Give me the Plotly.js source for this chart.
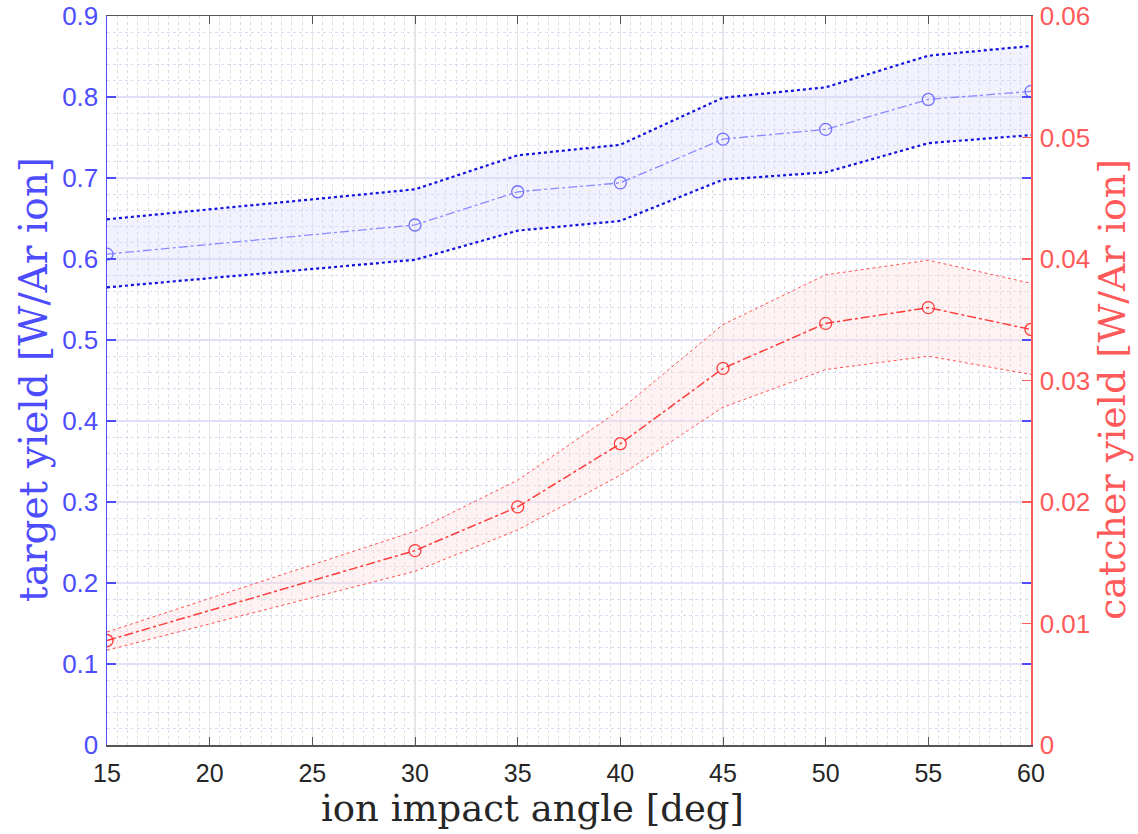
<!DOCTYPE html>
<html>
<head>
<meta charset="utf-8">
<script src="https://cdn.plot.ly/plotly-3.0.1.min.js"></script>
<style>html,body{margin:0;padding:0;background:#fff;}#chart{width:1138px;height:834px;}</style>
</head>
<body>
<div id="chart"></div>
<script>
const angles = [15, 30, 35, 40, 45, 50, 55, 60];
const targetMean  = [0.606, 0.642, 0.683, 0.694, 0.748, 0.760, 0.797, 0.807];
const targetUpper = [0.649, 0.686, 0.728, 0.741, 0.799, 0.812, 0.851, 0.863];
const targetLower = [0.565, 0.599, 0.635, 0.647, 0.698, 0.707, 0.743, 0.753];
const catcherMean  = [0.0086, 0.0160, 0.0196, 0.0248, 0.0310, 0.0347, 0.0360, 0.0342];
const catcherUpper = [0.0093, 0.0176, 0.0218, 0.0276, 0.0346, 0.0387, 0.0399, 0.0380];
const catcherLower = [0.0078, 0.0143, 0.0177, 0.0222, 0.0278, 0.0309, 0.0320, 0.0305];
const xTicks = [15, 20, 25, 30, 35, 40, 45, 50, 55, 60];
const yTicks = [0, 0.1, 0.2, 0.3, 0.4, 0.5, 0.6, 0.7, 0.8, 0.9];
const y2Ticks = [0, 0.01, 0.02, 0.03, 0.04, 0.05, 0.06];
const xTitle = 'ion impact angle [deg]';
const yTitle = 'target yield [W/Ar ion]';
const y2Title = 'catcher yield [W/Ar ion]';

const BLUE = '#4d4dff';
const RED = '#ff5a5a';
const serif = '"DejaVu Serif", "Liberation Serif", serif';
const sans = '"Liberation Sans", Arial, sans-serif';

// plot area in pixels
const L = 107, R = 1031, T = 16, B = 745;
const px = x => (x - L) / (R - L);
const py = y => (B - y) / (B - T);

const traces = [
  {x: angles, y: targetLower, mode: 'lines', line: {color: '#1010e0', width: 2.2, dash: 'dot'}, showlegend: false},
  {x: angles, y: targetUpper, mode: 'lines', fill: 'tonexty', fillcolor: 'rgba(215,215,255,0.32)', line: {color: '#1010e0', width: 2.2, dash: 'dot'}, showlegend: false},
  {x: angles, y: targetMean, mode: 'lines+markers', line: {color: '#8a8aff', width: 1.3, dash: 'dashdot'}, marker: {symbol: 'circle-open', size: 12, color: '#7070ff', line: {width: 1.3}}, showlegend: false},
  {x: angles, y: catcherLower, yaxis: 'y2', mode: 'lines', line: {color: '#ff5050', width: 1, dash: 'dot'}, showlegend: false},
  {x: angles, y: catcherUpper, yaxis: 'y2', mode: 'lines', fill: 'tonexty', fillcolor: 'rgba(255,218,218,0.35)', line: {color: '#ff5050', width: 1, dash: 'dot'}, showlegend: false},
  {x: angles, y: catcherMean, yaxis: 'y2', mode: 'lines+markers', line: {color: '#ff3a3a', width: 1.5, dash: 'dashdot'}, marker: {symbol: 'circle-open', size: 12, color: '#ff3a3a', line: {width: 1.3}}, showlegend: false}
];

const layout = {
  width: 1138, height: 834,
  margin: {l: L, r: 1138 - R, t: T, b: 834 - B},
  paper_bgcolor: '#ffffff', plot_bgcolor: '#ffffff',
  showlegend: false,
  xaxis: {
    range: [15, 60], tickvals: xTicks, ticktext: xTicks.map(String),
    ticks: 'inside', ticklen: 8, tickcolor: '#555555', tickwidth: 1,
    showline: true, linecolor: '#555555', linewidth: 1.5, mirror: 'ticks',
    showgrid: true, gridcolor: '#e6e6e6', gridwidth: 1.3,
    zeroline: false, ticklabelstandoff: 5,
    minor: {dtick: 0.5, showgrid: true, gridcolor: '#dedede', griddash: 'dot', gridwidth: 1, ticks: ''},
    tickfont: {family: sans, size: 25, color: '#262626'}
  },
  yaxis: {
    range: [0, 0.9], tickvals: yTicks, ticktext: yTicks.map(v => v === 0 ? '0' : v.toFixed(1)),
    ticks: 'inside', ticklen: 9, tickcolor: BLUE, tickwidth: 1.3,
    showline: true, linecolor: BLUE, linewidth: 1.5, mirror: 'ticks',
    showgrid: true, gridcolor: '#e0e0f8', gridwidth: 1.3,
    zeroline: false, ticklabelstandoff: 2,
    minor: {dtick: 0.02, showgrid: true, gridcolor: '#dadaf4', griddash: 'dot', gridwidth: 1, ticks: ''},
    tickfont: {family: sans, size: 26, color: BLUE}
  },
  yaxis2: {
    overlaying: 'y', side: 'right',
    range: [0, 0.06], tickvals: y2Ticks, ticktext: y2Ticks.map(v => v === 0 ? '0' : v.toFixed(2)),
    ticks: 'inside', ticklen: 9, tickcolor: RED, tickwidth: 1.3,
    showline: true, linecolor: RED, linewidth: 1.5,
    showgrid: false, zeroline: false, ticklabelstandoff: 2,
    tickfont: {family: sans, size: 26, color: RED}
  },
  annotations: [
    {text: xTitle, xref: 'paper', yref: 'paper', x: px(532), y: py(808), xanchor: 'center', yanchor: 'middle', showarrow: false, font: {family: serif, size: 37, color: '#262626'}},
    {text: yTitle, xref: 'paper', yref: 'paper', x: px(33), y: py(380), xanchor: 'center', yanchor: 'middle', textangle: -90, showarrow: false, font: {family: serif, size: 39, color: BLUE}},
    {text: y2Title, xref: 'paper', yref: 'paper', x: px(1112), y: py(390), xanchor: 'center', yanchor: 'middle', textangle: -90, showarrow: false, font: {family: serif, size: 38, color: RED}}
  ]
};

Plotly.newPlot('chart', traces, layout, {staticPlot: true, displayModeBar: false});
</script>
</body>
</html>
